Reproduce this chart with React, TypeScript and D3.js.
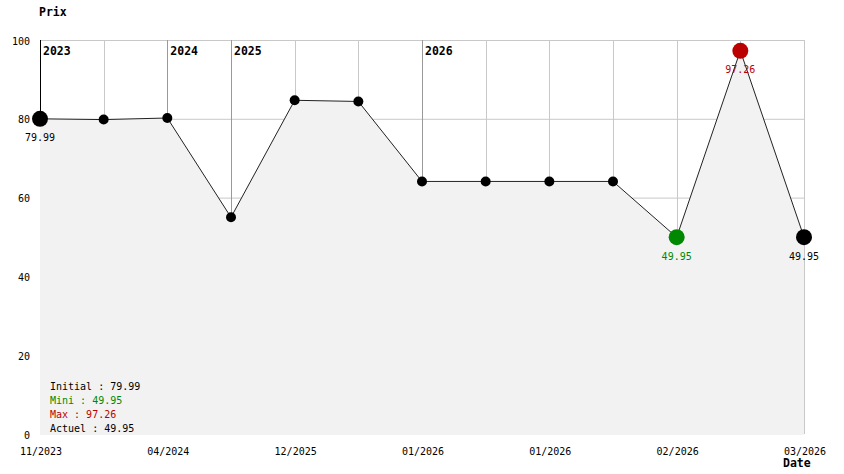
import React from "react";
import * as d3 from "d3";

const dateLabels = ["11/2023", "", "04/2024", "", "12/2025", "", "01/2026", "", "01/2026", "", "02/2026", "", "03/2026"];
const prices = [79.99, 79.8, 80.2, 55.0, 84.7, 84.4, 64.1, 64.1, 64.1, 64.1, 49.95, 97.26, 49.95];
const yearMarks = [
  { index: 0, label: "2023" },
  { index: 2, label: "2024" },
  { index: 3, label: "2025" },
  { index: 6, label: "2026" },
];
const yTicks = [0, 20, 40, 60, 80, 100];
const legendLines = [
  { text: "Initial : 79.99", color: "#000000" },
  { text: "Mini : 49.95", color: "#008800" },
  { text: "Max : 97.26", color: "#bb0000" },
  { text: "Actuel : 49.95", color: "#000000" },
];

const W = 844;
const H = 474;
const mono = "'DejaVu Sans Mono', monospace";

export default function App() {
  const x = d3.scaleLinear().domain([0, prices.length - 1]).range([40, 804]);
  const y = d3.scaleLinear().domain([0, 100]).range([434, 40]);
  const idx = prices.map((_, i) => i);
  const minV = d3.min(prices)!;
  const maxV = d3.max(prices)!;
  const minI = prices.indexOf(minV);
  const maxI = prices.indexOf(maxV);
  const lastI = prices.length - 1;

  const line = d3.line<number>().x((i) => x(i)).y((i) => y(prices[i]));
  const area = d3
    .area<number>()
    .x((i) => x(i))
    .y0(y(0) + 1)
    .y1((i) => y(prices[i]));

  const yearIdx = new Set(yearMarks.map((m) => m.index));

  return (
    <svg width={W} height={H} style={{ position: "absolute", left: 0, top: 0, background: "#fff" }}>
      {/* horizontal grid */}
      {yTicks.filter((t) => t > 0).map((t) => (
        <line key={"h" + t} x1={40} x2={804} y1={y(t) + 0.5} y2={y(t) + 0.5} stroke="#c8c8c8" strokeWidth={1} />
      ))}
      {/* vertical grid */}
      {idx.map((i) => (
        <line
          key={"v" + i}
          x1={Math.round(x(i)) + 0.5}
          x2={Math.round(x(i)) + 0.5}
          y1={40}
          y2={434}
          stroke={i === 0 ? "#000" : yearIdx.has(i) ? "#999999" : "#c8c8c8"}
          strokeWidth={1}
        />
      ))}
      {/* area */}
      <path d={area(idx)!} fill="#f2f2f2" stroke="none" />
      {/* line */}
      <path d={line(idx)!} fill="none" stroke="#222" strokeWidth={1} />
      {/* points */}
      {idx.map((i) => {
        const big = i === 0 || i === minI || i === maxI || i === lastI;
        const color = i === minI ? "#008800" : i === maxI ? "#bb0000" : "#000";
        return <circle key={"p" + i} cx={x(i)} cy={y(prices[i])} r={big ? 8 : 5} fill={color} />;
      })}
      {/* value labels */}
      {[
        { i: 0, c: "#000" },
        { i: minI, c: "#008800" },
        { i: maxI, c: "#bb0000" },
        { i: lastI, c: "#000" },
      ].map((d) => (
        <text
          key={"vl" + d.i}
          x={x(d.i)}
          y={y(prices[d.i]) + 19}
          fill={d.c}
          fontFamily={mono}
          fontSize={10}
          textAnchor="middle"
          dominantBaseline="central"
        >
          {prices[d.i].toFixed(2)}
        </text>
      ))}
      {/* year labels */}
      {yearMarks.map((m) => (
        <text
          key={"y" + m.label}
          x={x(m.index) + 3}
          y={51}
          fontFamily={mono}
          fontWeight="bold"
          fontSize={11.5}
          dominantBaseline="central"
          fill="#000"
        >
          {m.label}
        </text>
      ))}
      {/* y ticks */}
      {yTicks.map((t) => (
        <text
          key={"yt" + t}
          x={30}
          y={y(t) + 1}
          fontFamily={mono}
          fontSize={10}
          textAnchor="end"
          dominantBaseline="central"
          fill="#000"
        >
          {t}
        </text>
      ))}
      {/* x labels */}
      {dateLabels.map((lab, i) =>
        lab ? (
          <text
            key={"xl" + i}
            x={x(i) + 1}
            y={451}
            fontFamily={mono}
            fontSize={10}
            textAnchor="middle"
            dominantBaseline="central"
            fill="#000"
          >
            {lab}
          </text>
        ) : null
      )}
      {/* axis titles */}
      <text x={39} y={12} fontFamily={mono} fontWeight="bold" fontSize={11.5} dominantBaseline="central" fill="#000">
        Prix
      </text>
      <text x={783} y={463} fontFamily={mono} fontWeight="bold" fontSize={11.5} dominantBaseline="central" fill="#000">
        Date
      </text>
      {/* legend */}
      {legendLines.map((l, k) => (
        <text
          key={"lg" + k}
          x={50}
          y={386 + k * 14}
          fontFamily={mono}
          fontSize={10}
          dominantBaseline="central"
          fill={l.color}
        >
          {l.text}
        </text>
      ))}
    </svg>
  );
}
